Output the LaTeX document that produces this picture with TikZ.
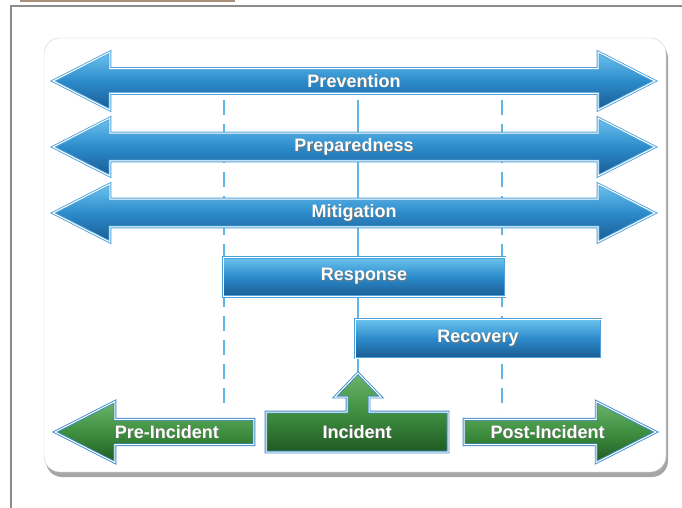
\documentclass[tikz,border=0pt]{standalone}
\usepackage{fontspec}
\setmainfont{Liberation Sans}
\usetikzlibrary{shapes.arrows}
\definecolor{bluetop}{HTML}{6CC3EE}
\definecolor{bluemid}{HTML}{2C8BCB}
\definecolor{bluebot}{HTML}{1A5B92}
\definecolor{blueline}{HTML}{4FA3DA}
\definecolor{guideblue}{HTML}{5DB6EA}
\definecolor{greentop}{HTML}{6BB56B}
\definecolor{greenmid}{HTML}{3F8F40}
\definecolor{greenbot}{HTML}{1F5A22}
\definecolor{greenline}{HTML}{3E8CC8}
\definecolor{tabbrown}{HTML}{A89078}
\newcommand\shadowtext[1]{\rlap{\hspace{0.8pt}\raisebox{-0.8pt}{\textcolor{black!55}{#1}}}#1}
\tikzset{
	phase/.style={draw=blueline, double=white, double distance=1pt, line width=0.9pt,
		top color=bluetop, bottom color=bluebot, middle color=bluemid,
		text=white, font=\fontsize{18}{21}\selectfont\bfseries, inner sep=0pt},
	longarrow/.style={phase, double arrow, minimum height=602pt, minimum width=58pt,
		double arrow head extend=10pt, double arrow tip angle=54},
	barbox/.style={phase, rectangle, minimum height=39pt},
	stage/.style={phase, draw=greenline, top color=greentop, bottom color=greenbot, middle color=greenmid},
	sidearrow/.style={stage, single arrow, minimum width=61pt,
		single arrow head extend=10.5pt, single arrow tip angle=54},
	guide/.style={draw=guideblue, line width=2.6pt},
	frame/.style={draw=black!45, line width=1.5pt}
}
\begin{document}
\begin{tikzpicture}[x=1pt,y=-1pt]
		\useasboundingbox (0,0) rectangle (682,508);
		\draw[frame] (10,6) -- (682,6);
		\draw[frame] (11,6) -- (11,508);
		\draw[line width=2pt, draw=tabbrown] (20,1) -- (235,1);
		\fill[black!35, rounded corners=16pt] (46,42) rectangle (668,477);
		\draw[fill=white, draw=black!20, rounded corners=16pt] (44,38) rectangle (666,472);
		\coordinate (lefttop) at (224,100);
		\coordinate (leftbot) at (224,412);
		\coordinate (midtop) at (358,100);
		\coordinate (midbot) at (358,374);
		\coordinate (righttop) at (502,100);
		\coordinate (rightbot) at (502,412);
		\draw[guide, dash pattern=on 15pt off 9pt] (lefttop) -- (leftbot);
		\draw[guide] (midtop) -- (midbot);
		\draw[guide, dash pattern=on 15pt off 9pt] (righttop) -- (rightbot);
		\node[longarrow] (prevention) at (354,81) {\shadowtext{Prevention}};
		\node[longarrow] (preparedness) at (354,147) {\shadowtext{Preparedness}};
		\node[longarrow] (mitigation) at (354,213) {\shadowtext{Mitigation}};
		\node[barbox, minimum width=282pt] (response) at (364,277) {\shadowtext{Response}};
		\node[barbox, minimum width=246pt] (recovery) at (478,338.5) {\shadowtext{Recovery}};
		\path[stage] (266,412) -- (347,412) -- (347,397) -- (335,397) -- (358,373) -- (381,397)
			-- (369,397) -- (369,412) -- (448,412) -- (448,452) -- (266,452) -- cycle;
		\node[text=white, font=\fontsize{18}{21}\selectfont\bfseries] (incident) at (357,432) {\shadowtext{Incident}};
		\node[sidearrow, shape border rotate=180, minimum height=199pt, anchor=tip] (preincident) at (54,432) {\shadowtext{Pre-Incident}};
		\node[sidearrow, minimum height=192pt, anchor=tip] (postincident) at (657,432) {\shadowtext{Post-Incident}};
\end{tikzpicture}
\end{document}
